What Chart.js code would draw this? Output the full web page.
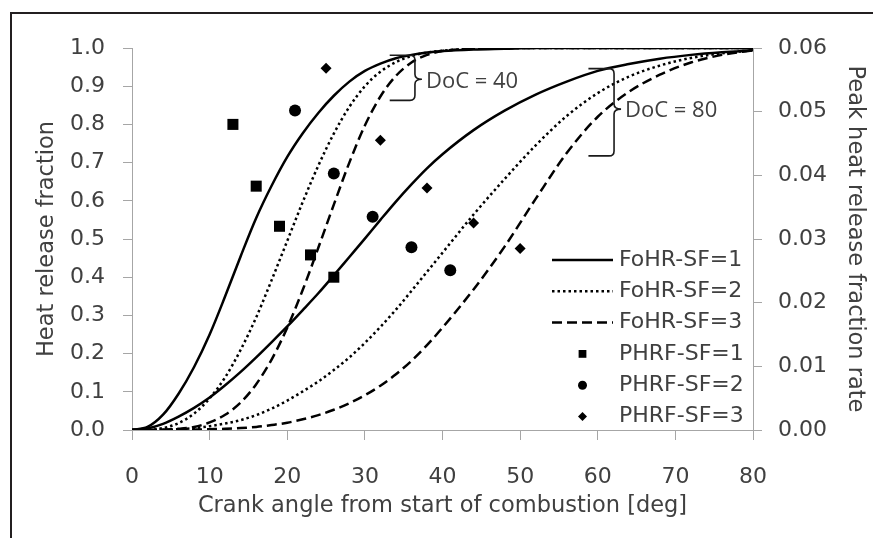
<!DOCTYPE html>
<html>
<head>
<meta charset="utf-8">
<title>Heat release fraction</title>
<script src="https://cdn.jsdelivr.net/npm/chart.js@4.4.1/dist/chart.umd.min.js"></script>
<style>
  html, body { margin: 0; padding: 0; background: #ffffff; }
</style>
</head>
<body>
<canvas id="hrChart" width="873" height="538"></canvas>
<script>
// Crank angle grid used by the heat release curves [deg]
var crankAngle = [0, 2, 4, 6, 8, 10, 12, 14, 16, 18, 20, 22, 24, 26, 28, 30, 32, 34, 36, 38, 40,
                  44, 48, 52, 56, 60, 64, 68, 72, 76, 80];

// Fraction of heat released, duration of combustion 40 deg
var doc40Sf1 = [0, 0.008, 0.04, 0.095, 0.165, 0.25, 0.35, 0.455, 0.555, 0.64, 0.715, 0.777, 0.83, 0.875, 0.912, 0.94, 0.959, 0.973, 0.982, 0.988, 0.992,
                0.996, 0.998, 1, 1, 1, 1, 1, 1, 1, 1];
var doc40Sf2 = [0, 0, 0.005, 0.018, 0.043, 0.083, 0.138, 0.21, 0.295, 0.393, 0.495, 0.597, 0.692, 0.776, 0.846, 0.9, 0.938, 0.963, 0.979, 0.988, 0.993,
                0.998, 1, 1, 1, 1, 1, 1, 1, 1, 1];
var doc40Sf3 = [0, 0, 0.001, 0.003, 0.008, 0.02, 0.04, 0.072, 0.12, 0.185, 0.268, 0.367, 0.477, 0.59, 0.7, 0.797, 0.873, 0.927, 0.962, 0.982, 0.992,
                0.998, 1, 1, 1, 1, 1, 1, 1, 1, 1];

// Fraction of heat released, duration of combustion 80 deg
var doc80Sf1 = [0, 0.004, 0.016, 0.035, 0.058, 0.085, 0.117, 0.152, 0.19, 0.23, 0.271, 0.314, 0.358, 0.405, 0.453, 0.501, 0.55, 0.598, 0.643, 0.685, 0.722,
                0.785, 0.836, 0.878, 0.912, 0.94, 0.958, 0.972, 0.982, 0.989, 0.994];
var doc80Sf2 = [0, 0, 0.001, 0.002, 0.005, 0.01, 0.017, 0.026, 0.039, 0.056, 0.077, 0.101, 0.127, 0.157, 0.19, 0.228, 0.27, 0.315, 0.364, 0.414, 0.464,
                0.564, 0.657, 0.745, 0.822, 0.882, 0.925, 0.954, 0.974, 0.986, 0.994];
var doc80Sf3 = [0, 0, 0, 0.001, 0.001, 0.002, 0.003, 0.005, 0.008, 0.013, 0.019, 0.028, 0.039, 0.053, 0.07, 0.091, 0.116, 0.146, 0.181, 0.222, 0.268,
                0.368, 0.48, 0.605, 0.725, 0.82, 0.885, 0.93, 0.962, 0.982, 0.994];

// Peak heat release fraction rate (right axis)
var phrfSf1Angle = [13, 16, 19, 23, 26];
var phrfSf1 = [0.048, 0.0383, 0.032, 0.0275, 0.024];
var phrfSf2Angle = [21, 26, 31, 36, 41];
var phrfSf2 = [0.0502, 0.0403, 0.0335, 0.0287, 0.0251];
var phrfSf3Angle = [25, 32, 38, 44, 50];
var phrfSf3 = [0.0568, 0.0455, 0.038, 0.0325, 0.0285];

var textColor = '#404040';
var axisGray = '#a6a6a6';
var fontFamily = "'DejaVu Sans', sans-serif";
var noteFont = "22px 'Open Sans', sans-serif";

Chart.defaults.font.family = fontFamily;
Chart.defaults.color = textColor;

function toPoints(xs, ys) {
    return xs.map(function(x, i) { return { x: x, y: ys[i] }; });
}

var dotted = [2.5, 3];
var dashed = [10, 5];

function curveSet(label, values, dash, legendRow) {
    return {
        type: 'line',
        label: label,
        data: toPoints(crankAngle, values),
        borderColor: '#000000',
        borderWidth: 2.5,
        borderDash: dash,
        pointRadius: 0,
        fill: false,
        cubicInterpolationMode: 'monotone',
        yAxisID: 'y',
        order: 2,
        legendRow: legendRow
    };
}

function pointSet(label, xs, ys, style, radius, legendRadius, legendRow) {
    return {
        type: 'scatter',
        label: label,
        data: toPoints(xs, ys),
        pointStyle: style,
        pointRadius: radius,
        pointBackgroundColor: '#000000',
        pointBorderWidth: 0,
        backgroundColor: '#000000',
        borderColor: '#000000',
        yAxisID: 'y2',
        order: 1,
        legendRow: legendRow,
        legendRadius: legendRadius
    };
}

// Curly braces with the "DoC = .." labels, in data units
var braces = [
    { x: 36.45, armX: 33.2, top: 0.981, bottom: 0.863, mid: 0.918, text: 'DoC = 40' },
    { x: 62.1, armX: 58.8, top: 0.946, bottom: 0.7175, mid: 0.84, text: 'DoC = 80' }
];

var bracePlugin = {
    id: 'braces',
    afterDatasetsDraw: function(chart) {
        var ctx = chart.ctx;
        var xs = chart.scales.x, ys = chart.scales.y;
        ctx.save();
        ctx.strokeStyle = '#1a1a1a';
        ctx.lineWidth = 1.6;
        braces.forEach(function(b) {
            var x = xs.getPixelForValue(b.x);
            var ax = xs.getPixelForValue(b.armX);
            var yt = ys.getPixelForValue(b.top);
            var yb = ys.getPixelForValue(b.bottom);
            var ym = ys.getPixelForValue(b.mid);
            var r = 5, k = 7;
            ctx.beginPath();
            ctx.moveTo(ax, yt);
            ctx.lineTo(x - r, yt);
            ctx.quadraticCurveTo(x, yt, x, yt + r);
            ctx.lineTo(x, ym - r);
            ctx.quadraticCurveTo(x, ym, x + k, ym);
            ctx.quadraticCurveTo(x, ym, x, ym + r);
            ctx.lineTo(x, yb - r);
            ctx.quadraticCurveTo(x, yb, x - r, yb);
            ctx.lineTo(ax, yb);
            ctx.stroke();
            ctx.fillStyle = textColor;
            ctx.font = noteFont;
            ctx.textAlign = 'left';
            ctx.textBaseline = 'middle';
            ctx.fillText(b.text, x + k + 4, ym + 2);
        });
        ctx.restore();
    }
};

// Legend drawn inside the plot, lower right
var legendPlugin = {
    id: 'innerLegend',
    afterDraw: function(chart) {
        var ctx = chart.ctx;
        var area = chart.chartArea;
        var items = chart.data.datasets.filter(function(d) { return d.legendRow >= 0; });
        var sampleLeft = area.right - 201;
        var sampleRight = area.right - 140;
        var textX = area.right - 134;
        var rowY = area.bottom - 170;
        var rowStep = 31.3;
        ctx.save();
        items.forEach(function(d) {
            var y = rowY + d.legendRow * rowStep;
            if (d.type === 'line') {
                ctx.strokeStyle = '#000000';
                ctx.lineWidth = 2.5;
                ctx.setLineDash(d.borderDash || []);
                ctx.beginPath();
                ctx.moveTo(sampleLeft, y);
                ctx.lineTo(sampleRight, y);
                ctx.stroke();
                ctx.setLineDash([]);
            } else {
                ctx.fillStyle = '#000000';
                Chart.helpers.drawPoint(ctx, {
                    pointStyle: d.pointStyle,
                    radius: d.legendRadius,
                    borderWidth: 0,
                    rotation: 0
                }, (sampleLeft + sampleRight) / 2, y);
            }
            ctx.fillStyle = textColor;
            ctx.font = '22px ' + fontFamily;
            ctx.textAlign = 'left';
            ctx.textBaseline = 'middle';
            ctx.fillText(d.label, textX, y);
        });
        ctx.restore();
    }
};

// Partial frame round the figure (left and top edges)
var framePlugin = {
    id: 'frame',
    afterDraw: function(chart) {
        var ctx = chart.ctx;
        ctx.save();
        ctx.fillStyle = '#231f20';
        ctx.fillRect(10, 12, 863, 2);
        ctx.fillRect(10, 12, 2, 526);
        ctx.restore();
    }
};

var ctx = document.getElementById('hrChart').getContext('2d');
var hrChart = new Chart(ctx, {
    type: 'line',
    data: {
        datasets: [
            pointSet('PHRF-SF=1', phrfSf1Angle, phrfSf1, 'rect', 7.8, 5.5, 3),
            pointSet('PHRF-SF=2', phrfSf2Angle, phrfSf2, 'circle', 6, 4.5, 4),
            pointSet('PHRF-SF=3', phrfSf3Angle, phrfSf3, 'rectRot', 5.5, 4.5, 5),
            curveSet('FoHR-SF=1', doc40Sf1, [], 0),
            curveSet('FoHR-SF=2', doc40Sf2, dotted, 1),
            curveSet('FoHR-SF=3', doc40Sf3, dashed, 2),
            curveSet('FoHR-SF=1', doc80Sf1, [], -1),
            curveSet('FoHR-SF=2', doc80Sf2, dotted, -1),
            curveSet('FoHR-SF=3', doc80Sf3, dashed, -1)
        ]
    },
    options: {
        responsive: false,
        animation: false,
        layout: { padding: { left: 12, right: 0, top: 48, bottom: 0 } },
        plugins: {
            legend: { display: false },
            tooltip: { enabled: false }
        },
        scales: {
            x: {
                type: 'linear',
                min: 0,
                max: 80,
                ticks: { stepSize: 10, padding: 24, font: { size: 22 } },
                grid: { drawOnChartArea: false, tickLength: 10, color: axisGray },
                border: { color: axisGray },
                title: {
                    display: true,
                    text: 'Crank angle from start of combustion [deg]',
                    font: { size: 22.5 },
                    padding: { top: 0, bottom: 18 }
                },
                afterFit: function(scale) { scale.height = 108; }
            },
            y: {
                position: 'left',
                min: 0,
                max: 1,
                ticks: {
                    stepSize: 0.1,
                    padding: 18,
                    font: { size: 22 },
                    callback: function(value) { return value.toFixed(1); }
                },
                grid: { drawOnChartArea: false, tickLength: 9, color: axisGray },
                border: { color: axisGray },
                title: {
                    display: true,
                    text: 'Heat release fraction',
                    font: { size: 22.5 },
                    padding: { top: 21.5, bottom: 0 }
                },
                afterFit: function(scale) { scale.width = 120; }
            },
            y2: {
                position: 'right',
                min: 0,
                max: 0.06,
                ticks: {
                    stepSize: 0.01,
                    padding: 16,
                    font: { size: 22 },
                    callback: function(value) { return value.toFixed(2); }
                },
                grid: { drawOnChartArea: false, tickLength: 9, color: axisGray },
                border: { color: axisGray },
                title: {
                    display: true,
                    text: 'Peak heat release fraction rate',
                    font: { size: 22.5 },
                    padding: { top: 4.5, bottom: 0 }
                },
                afterFit: function(scale) { scale.width = 120; }
            }
        }
    },
    plugins: [bracePlugin, legendPlugin, framePlugin]
});
</script>
</body>
</html>
